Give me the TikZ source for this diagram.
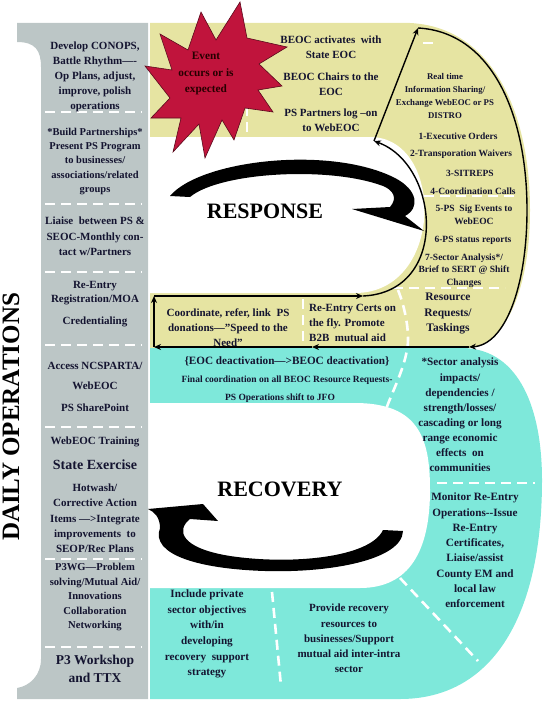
\documentclass[tikz,border=0pt]{standalone}
\usepackage{fontspec}
\setmainfont{Liberation Serif}
\usetikzlibrary{arrows.meta}
\definecolor{graybg}{HTML}{BCC6C6}
\definecolor{yel}{HTML}{E6E4A2}
\definecolor{cya}{HTML}{7EE8DA}
\definecolor{starred}{HTML}{C0143C}
\definecolor{stardark}{HTML}{5A0A1C}
\definecolor{ink}{HTML}{141430}
\begin{document}
\begin{tikzpicture}[x=1pt,y=-1pt,
  lbl/.style={inner sep=0pt, align=center, text=ink},
  tbody/.style={lbl, font=\bfseries\fontsize{11}{15}\selectfont},
  tbodys/.style={lbl, font=\bfseries\fontsize{10.5}{14.3}\selectfont},
  tlist/.style={lbl, font=\bfseries\fontsize{9.5}{12.5}\selectfont},
  ttiny/.style={lbl, font=\bfseries\fontsize{8.8}{12.7}\selectfont},
  tbig/.style={lbl, font=\bfseries\fontsize{13.5}{18}\selectfont},
  ttitle/.style={lbl, text=black, font=\bfseries\fontsize{22}{24}\selectfont},
  tside/.style={lbl, text=black, font=\bfseries\fontsize{25}{27}\selectfont},
  wdash/.style={draw=white, line width=2.6pt, dash pattern=on 10pt off 6pt},
  flow/.style={draw=black, line width=1.4pt, -{Stealth[length=7pt,width=6pt]}},
  swoosh/.style={fill=black}
]
\useasboundingbox (0,0) rectangle (543,701);

% ---------- gray column ----------
\fill[graybg] (17,23) -- (148,23) -- (148,699) -- (17,699) -- (17,688)
  .. controls (30,686) and (41,675) .. (41,659) -- (41,67)
  .. controls (41,50) and (35,42) .. (17,42) -- cycle;

% ---------- yellow (response) lobe ----------
\fill[yel] (150,23) -- (410,23) .. controls (492,27) and (530,112) .. (530,210)
  .. controls (530,290) and (505,347) .. (466,348) -- (150,348) -- cycle;
% ---------- cyan (recovery) lobe ----------
\fill[cya] (150,348) -- (464,348) .. controls (520,350) and (542,410) .. (542,480)
  .. controls (542,620) and (490,699) .. (400,699) -- (150,699) -- cycle;
% ---------- holes ----------
\fill[white] (150,137) -- (370,137) .. controls (445,137) and (445,293) .. (355,293) -- (150,293) -- cycle;
\fill[white] (150,403) -- (355,403) .. controls (420,403) and (430,440) .. (430,490)
  .. controls (430,550) and (410,588) .. (360,588) -- (150,588) -- cycle;

% ---------- white dashed separators ----------
\foreach \yy in {112,204,272,345,427,559,647}
  \draw[wdash] (45,\yy) -- (142,\yy);
\draw[wdash] (303,299) -- (303,345);
\draw[wdash] (393,288) -- (505,288);
\draw[wdash] (424,196) -- (518,196);
\draw[wdash] (398,290) .. controls (406,310) and (410,335) .. (407,350)
  .. controls (403,372) and (392,392) .. (385,412);
\draw[wdash] (247,106) -- (247,132);
\draw[wdash] (423,43) -- (435,43);
\draw[wdash] (437,483) -- (535,483);
\draw[wdash] (400,578) -- (478,661);
\draw[wdash] (272,592) -- (281,686);

% ---------- star ----------
\filldraw[fill=starred, draw=stardark, line width=0.6pt]
  (240,2) -- (247,38) -- (287,47) -- (259,64) -- (282,86) -- (258,90) -- (273,112)
  -- (245,108) -- (234,140) -- (222,120) -- (205,158) -- (199,124) -- (173,152)
  -- (181,118) -- (151,118) -- (170,98) -- (145,66) -- (172,70) -- (160,34)
  -- (188,50) -- (201,12) -- (216,40) -- cycle;
\node[lbl, text=black!85!red, font=\bfseries\fontsize{11.3}{16.5}\selectfont] (evt) at (206,74)
  {Event\\occurs or is\\expected};

% ---------- flow lines ----------
\coordinate (p1) at (154,347);
\coordinate (p2) at (154,296);
\coordinate (p3) at (363,296);
\coordinate (p4) at (374,141);
\coordinate (p5) at (418,28);
\coordinate (p6) at (469,347);
\coordinate (p7) at (312,347);
\draw[flow] (p1) -- (p2);
\draw[flow] (p2) -- (p3);
\draw[flow] (p3) .. controls (450,292) and (440,165) .. (p4);
\draw[flow] (p4) -- (p5);
\draw[flow] (p5) .. controls (492,32) and (527,115) .. (527,210)
  .. controls (527,287) and (505,345) .. (p6);
\draw[flow] (p6) -- (p7);
\draw[flow] (p7) -- (p1);

% ---------- swooshes ----------
\fill[swoosh] (170,196) .. controls (200,160) and (330,145) .. (395,178)
  .. controls (418,190) and (420,208) .. (405,216)
  -- (424,231) -- (352,209) -- (390,207)
  .. controls (398,198) and (393,190) .. (383,186)
  .. controls (330,166) and (220,172) .. (190,197) -- cycle;
\fill[swoosh] (148,509) -- (203,504) -- (218,521) -- (190,519)
  .. controls (176,530) and (180,548) .. (230,556)
  .. controls (290,565) and (370,558) .. (383,530)
  -- (403,531)
  .. controls (402,560) and (330,573) .. (265,571)
  .. controls (200,569) and (150,555) .. (160,528)
  .. controls (160,518) and (155,512) .. (148,509) -- cycle;

% ---------- titles ----------
\node[ttitle] (resp) at (265,211) {RESPONSE};
\node[ttitle] (reco) at (280,489) {RECOVERY};
\node[tside, rotate=90] (daily) at (11,417) {DAILY OPERATIONS};

% ---------- gray column text ----------
\node[tbody] (g1) at (95,76.5) {Develop CONOPS,\\Battle Rhythm—-\\Op Plans, adjust,\\improve, polish\\operations};
\node[tbodys] (g2) at (95,161.5) {*Build Partnerships*\\Present PS Program\\to businesses/\\associations/related\\groups};
\node[tbody, font=\bfseries\fontsize{11}{15.5}\selectfont] (g3) at (95,236.5) {Liaise\ \ between PS \&\\SEOC-Monthly con-\\tact w/Partners};
\node[tbody, font=\bfseries\fontsize{11}{14}\selectfont] (g4) at (95,293.5) {Re-Entry\\Registration/MOA};
\node[tbody] (g4b) at (95,322) {Credentialing};
\node[tbody, font=\bfseries\fontsize{11}{20}\selectfont] (g5) at (95,375.5) {Access NCSPARTA/\\WebEOC};
\node[tbody] (g5b) at (95,408) {PS SharePoint};
\node[tbody] (g6) at (95,441.5) {WebEOC Training};
\node[tbig, font=\bfseries\fontsize{14}{18}\selectfont] (g6b) at (95,464.5) {State Exercise};
\node[tbody, font=\bfseries\fontsize{11}{15.3}\selectfont] (g7) at (95,518.5) {Hotwash/\\Corrective Action\\Items —>Integrate\\improvements\ \ to\\SEOP/Rec Plans};
\node[tbodys, font=\bfseries\fontsize{10.6}{14.5}\selectfont] (g8) at (95,597) {P3WG—Problem\\solving/Mutual Aid/\\Innovations\\Collaboration\\Networking};
\node[tbig] (g9) at (95,669) {P3 Workshop\\and TTX};

% ---------- yellow lobe text ----------
\node[tbody] (y1) at (331,47.5) {BEOC activates\ \ with\\State EOC};
\node[tbody] (y2) at (331,84.5) {BEOC Chairs to the\\EOC};
\node[tbody] (y3) at (331,120.5) {PS Partners log –on\\to WebEOC};
\node[ttiny] (r1) at (445,96) {Real time\\Information Sharing/\\Exchange WebEOC or PS\\DISTRO};
\node[tlist] (r2) at (458,136) {1-Executive Orders};
\node[tlist] (r3) at (461,154.5) {2-Transporation Waivers};
\node[tlist] (r4) at (470,173) {3-SITREPS};
\node[tlist] (r5) at (473,191) {4-Coordination Calls};
\node[tlist] (r6) at (474,215) {5-PS\ \ Sig Events to\\WebEOC};
\node[tlist] (r7) at (473,240) {6-PS status reports};
\node[tlist] (r8) at (464,270.5) {7-Sector Analysis*/\\Brief to SERT @ Shift\\Changes};
\node[tbody, font=\bfseries\fontsize{11.5}{15.5}\selectfont] (r9) at (448,313.5) {Resource\\Requests/\\Taskings};
\node[tbody] (b1) at (228,327.5) {Coordinate, refer, link\ \ PS\\donations—"Speed to the\\Need"};
\node[tbody, align=left, anchor=west] (b2) at (309,323) {Re-Entry Certs on\\the fly. Promote\\B2B\ \ mutual aid};

% ---------- cyan lobe text ----------
\node[tbody, font=\bfseries\fontsize{11.2}{15}\selectfont] (c1) at (287,361) {\{EOC deactivation—>BEOC deactivation\}};
\node[tlist] (c2) at (287,380) {Final coordination on all BEOC Resource Requests-};
\node[tlist] (c3) at (280,398) {PS Operations shift to JFO};
\node[tbody, font=\bfseries\fontsize{11.2}{15.1}\selectfont] (s1) at (460,415) {*Sector analysis\\impacts/\\dependencies /\\strength/losses/\\cascading or long\\range economic\\effects\ \ on\\communities};
\node[tbody, font=\bfseries\fontsize{11.2}{15.3}\selectfont] (s2) at (475,550.5) {Monitor Re-Entry\\Operations-{}-Issue\\Re-Entry\\Certificates,\\Liaise/assist\\County EM and\\local law\\enforcement};
\node[tbody, font=\bfseries\fontsize{11.2}{15.6}\selectfont] (s3) at (207,634) {Include private\\sector objectives\\with/in\\developing\\recovery\ \ support\\strategy};
\node[tbody, font=\bfseries\fontsize{11}{15.25}\selectfont] (s4) at (349,638.5) {Provide recovery\\resources to\\businesses/Support\\mutual aid inter-intra\\sector};
\end{tikzpicture}
\end{document}
